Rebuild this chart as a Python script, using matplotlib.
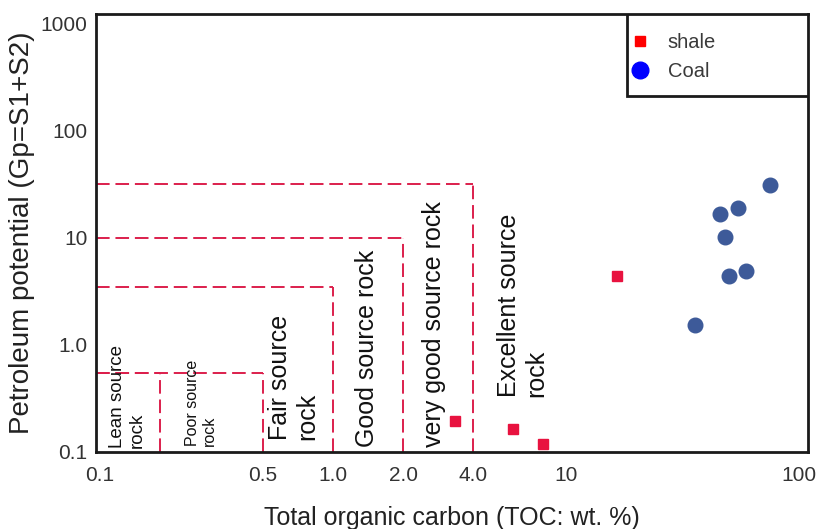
import matplotlib.pyplot as plt
from matplotlib.lines import Line2D
from matplotlib.patches import Rectangle

plt.rcParams['font.family'] = ['Liberation Sans', 'DejaVu Sans']

# Sample data
shale_toc = [3.34, 5.9, 7.95, 16.5]
shale_gp = [0.195, 0.163, 0.119, 4.4]

coal_toc = [75.0, 45.5, 54.7, 48.1, 59.3, 50.1, 35.8]
coal_gp = [31.0, 16.7, 19.1, 10.2, 4.9, 4.45, 1.54]

# Source rock class limits (upper TOC bound, upper Gp bound)
class_toc = [0.18, 0.5, 1.0, 2.0, 4.0]
class_gp = [0.55, 0.55, 3.5, 10.0, 32.0]

# Class labels and where they sit (TOC, Gp of the bottom edge)
class_names = ['Lean source\nrock', 'Poor source\nrock', 'Fair source\nrock',
               'Good source rock', 'very good source rock', 'Excellent source\nrock']
label_toc = [0.131, 0.271, 0.677, 1.395, 2.71, 6.5]
label_gp = [0.108, 0.114, 0.129, 0.111, 0.111, 0.327]
label_size = [13.5, 11.5, 18, 18, 18, 18]

x_ticks = [0.1, 0.5, 1.0, 2.0, 4.0, 10, 100]
x_ticklabels = ['0.1', '0.5', '1.0', '2.0', '4.0', '10', '100']
y_ticks = [0.1, 1.0, 10, 100, 1000]
y_ticklabels = ['0.1', '1.0', '10', '100', '1000']

xmin, xmax = 0.096, 109
ymin, ymax = 0.1, 1240

fig = plt.figure(figsize=(8.19, 5.29), dpi=100)
ax = fig.add_axes([0.1172, 0.1456, 0.8694, 0.828])
ax.set_xscale('log')
ax.set_yscale('log')
ax.set_xlim(xmin, xmax)
ax.set_ylim(ymin, ymax)

# dashed class boxes
red = '#dc1f4c'
for t, g in zip(class_toc, class_gp):
    ax.plot([t, t], [ymin, g], color=red, lw=1.4, ls=(0, (7, 3)), zorder=2)
    ax.plot([xmin, t], [g, g], color=red, lw=1.4, ls=(0, (7, 3)), zorder=2)

for name, tx, ty, fs in zip(class_names, label_toc, label_gp, label_size):
    ax.text(tx, ty, name, rotation=90, ha='center', va='bottom',
            multialignment='left', fontsize=fs, color='#111111',
            linespacing=1.15, zorder=3)

ax.plot(shale_toc, shale_gp, ls='none', marker='s', ms=7.5,
        color='#e8123f', zorder=4)
ax.plot(coal_toc, coal_gp, ls='none', marker='o', ms=10.5,
        color='#3d5a99', zorder=4)

ax.set_xticks(x_ticks)
ax.set_xticklabels(x_ticklabels)
ax.set_yticks(y_ticks)
ax.set_yticklabels(y_ticklabels)
ax.minorticks_off()
ax.tick_params(length=0, labelsize=15, labelcolor='#333333')
ax.tick_params(axis='x', pad=10)
ax.tick_params(axis='y', pad=6)

ax.set_xlabel('Total organic carbon (TOC: wt. %)', fontsize=18,
              color='#222222', labelpad=15)
ax.set_ylabel('Petroleum potential (Gp=S1+S2)', fontsize=20,
              color='#222222', labelpad=4)

for s in ax.spines.values():
    s.set_linewidth(2)
    s.set_color('#1a1a1a')

# legend box
ax.add_patch(Rectangle((0.746, 0.813), 0.254, 0.187, transform=ax.transAxes,
                       facecolor='white', edgecolor='#1a1a1a', lw=2, zorder=5))
handles = [Line2D([], [], ls='none', marker='s', ms=7.5, color='#ff0000'),
           Line2D([], [], ls='none', marker='o', ms=12, color='#0000ff')]
leg = ax.legend(handles, ['shale', 'Coal'], loc='upper left',
                bbox_to_anchor=(0.724, 0.998), frameon=False, fontsize=14.5,
                handletextpad=0.9, labelspacing=0.5, handlelength=1.0)
leg.set_zorder(6)
for t in leg.get_texts():
    t.set_color('#3a3a3a')

fig.savefig('out.png', dpi=100)
